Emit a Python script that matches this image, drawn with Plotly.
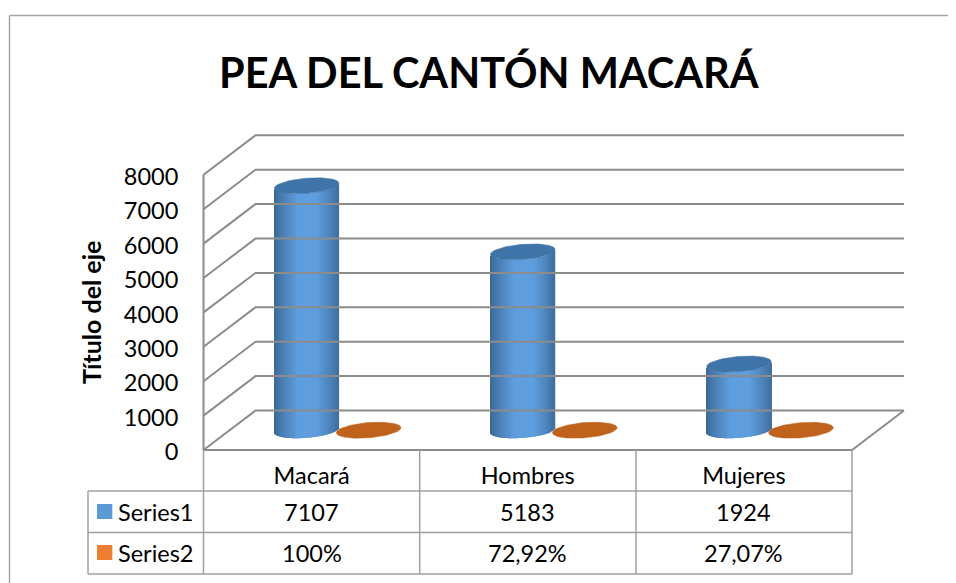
import numpy as np
import plotly.graph_objects as go

categories = ["Macará", "Hombres", "Mujeres"]
series1_values = [7107, 5183, 1924]
series2_values = [1.0, 0.7292, 0.2707]
series_names = ["Series1", "Series2"]
series1_labels = ["7107", "5183", "1924"]
series2_labels = ["100%", "72,92%", "27,07%"]
tick_values = [0, 1000, 2000, 3000, 4000, 5000, 6000, 7000, 8000]
title_text = "PEA DEL CANTÓN MACARÁ"
axis_title = "Título del eje"

# The page has an 8 px body margin: the figure is sized to fit in the window,
# and px()/py() below take window coordinates.
PAGE = 8.0
W, H = 948, 575
FONT = "Lato"
# scale: pixels per unit
PX_CAT = 216.17
PX_VAL = 34.4 / 1000
CAT0_PX = 311.6
ZERO_PY = 450.0
# plot rectangle in window pixels
L, R, T, B = 198.0, 915.0, 125.0, 456.0
xrange_ = [(L - CAT0_PX) / PX_CAT, (R - CAT0_PX) / PX_CAT]
yrange_ = [(ZERO_PY - B) / PX_VAL, (ZERO_PY - T) / PX_VAL]

# depth projection (a full depth step, in data units)
DX = 52.0 / PX_CAT
DY = 39.5 / PX_VAL
X_LEFT, X_RIGHT = -0.5, 2.5
V_TOP = tick_values[-1]

GRID = "#8c8c8c"
fig = go.Figure()

# walls
gx, gy = [], []
for v in tick_values:
    gx += [X_LEFT, X_LEFT + DX, X_RIGHT + DX, None]
    gy += [v, v + DY, v + DY, None]
fig.add_trace(go.Scatter(x=gx, y=gy, mode="lines", line=dict(color=GRID, width=2), hoverinfo="skip", showlegend=False))
# floor and front edge
fig.add_trace(go.Scatter(
    x=[X_LEFT, X_LEFT, None, X_LEFT, X_RIGHT, X_RIGHT + DX],
    y=[V_TOP, 0, None, 0, 0, DY],
    mode="lines", line=dict(color=GRID, width=2), hoverinfo="skip", showlegend=False))

A = 32.35 / PX_CAT      # ellipse half-width
Bb = 7.6 / PX_VAL       # ellipse half-height
S = 2.5 / PX_VAL        # ellipse tilt
OFFSET = 31.0 / PX_CAT  # cluster offset


def ellipse(cx, cy):
    t = np.linspace(0, 2 * np.pi, 73)
    return cx + A * np.cos(t), cy + Bb * np.sin(t) + S * np.cos(t)


def shade(f):
    # f in 0..1 across the cylinder
    dark = np.array([60, 106, 152])
    light = np.array([95, 158, 222])
    k = np.clip((0.5 - abs(f - 0.52)) / 0.36, 0, 1) ** 0.8
    c = dark + (light - dark) * k
    return "rgb(%d,%d,%d)" % tuple(c)


N = 65
us = (np.arange(N) + 0.5) / N * 2 - 1
for i, v in enumerate(series1_values):
    cx = i - OFFSET + DX / 2
    cy = DY / 2
    xs = cx + us * A
    base = cy + S * us - Bb * np.sqrt(1 - us ** 2)
    fig.add_trace(go.Bar(
        x=xs, y=np.full(N, float(v)), base=base,
        width=1.3 / PX_CAT,
        marker=dict(color=[shade((u + 1) / 2) for u in us], line=dict(width=0)),
        hoverinfo="skip", showlegend=False))
    ex, ey = ellipse(cx, cy + v)
    fig.add_trace(go.Scatter(x=ex, y=ey, mode="lines", fill="toself", fillcolor="#3f74a8",
                             line=dict(color="#3f74a8", width=0.5), hoverinfo="skip", showlegend=False))

for i, v in enumerate(series2_values):
    cx = i + OFFSET + DX / 2
    cy = DY / 2
    ex, ey = ellipse(cx, cy + v)
    fig.add_trace(go.Scatter(x=ex, y=ey, mode="lines", fill="toself", fillcolor="#bf621c",
                             line=dict(color="#bf621c", width=0.5), hoverinfo="skip", showlegend=False))


def px(x):
    return (x - PAGE) / W


def py(y):
    return 1 - (y - PAGE) / H


def seg(x0, y0, x1, y1, color="#a0a0a0", width=1.5):
    return dict(type="line", xref="paper", yref="paper", x0=px(x0), y0=py(y0), x1=px(x1), y1=py(y1),
                line=dict(color=color, width=width), layer="above")


shapes = [
    seg(9.5, 15.5, 956, 15.5, "#a6a6a6", 1.5),
    seg(9.5, 15.5, 9.5, 583, "#a6a6a6", 1.5),
    # data table
    seg(203.5, 450, 203.5, 574),
    seg(419.7, 450, 419.7, 574),
    seg(636, 450, 636, 574),
    seg(852, 450, 852, 574),
    seg(88, 491, 852, 491),
    seg(88, 532.5, 852, 532.5),
    seg(88, 574, 852, 574),
    seg(88, 491, 88, 574),
    dict(type="rect", xref="paper", yref="paper", x0=px(97), x1=px(112.3), y0=py(504), y1=py(519),
         fillcolor="#5B9BD5", line=dict(width=0)),
    dict(type="rect", xref="paper", yref="paper", x0=px(97), x1=px(112.3), y0=py(545), y1=py(560),
         fillcolor="#ED7D31", line=dict(width=0)),
]


def note(text, x, y, size=23.5, bold=False, angle=0, anchor="center"):
    return dict(text=("<b>%s</b>" % text) if bold else text, xref="paper", yref="paper", x=px(x), y=py(y),
                xanchor=anchor, yanchor="middle", showarrow=False, textangle=angle,
                font=dict(family=FONT, size=size, color="#000000"))


annotations = [
    note(title_text, 489.5, 72, size=41.5, bold=True),
    note(axis_title, 91, 313, size=25, bold=True, angle=-90),
    note(series_names[0], 116, 512, anchor="left"),
    note(series_names[1], 116, 553, anchor="left"),
]
for i in range(3):
    cxp = CAT0_PX + i * PX_CAT
    annotations.append(note(series1_labels[i], cxp, 512))
    annotations.append(note(series2_labels[i], cxp, 553))

fig.update_layout(
    width=W, height=H, autosize=False,
    margin=dict(l=0, r=0, t=0, b=0, pad=0, autoexpand=False),
    paper_bgcolor="white", plot_bgcolor="rgba(0,0,0,0)",
    barmode="overlay", showlegend=False,
    xaxis=dict(
        domain=[(L - PAGE) / W, (R - PAGE) / W], range=xrange_, showgrid=False, zeroline=False, showline=False,
        automargin=False,
        tickmode="array", tickvals=[0, 1, 2], ticktext=categories,
        ticks="", ticklabelstandoff=3,
        tickfont=dict(family=FONT, size=23.5, color="#000000"), anchor="y",
    ),
    yaxis=dict(
        domain=[1 - (B - PAGE) / H, 1 - (T - PAGE) / H], range=yrange_, showgrid=False, zeroline=False, showline=False,
        automargin=False,
        tickmode="array", tickvals=tick_values, ticktext=[str(v) for v in tick_values],
        ticks="outside", ticklen=14, tickcolor="rgba(0,0,0,0)", tickwidth=1, ticklabelshift=2,
        tickfont=dict(family=FONT, size=23.5, color="#000000"), anchor="x",
    ),
    shapes=shapes, annotations=annotations,
)
fig.write_html("out.html")
